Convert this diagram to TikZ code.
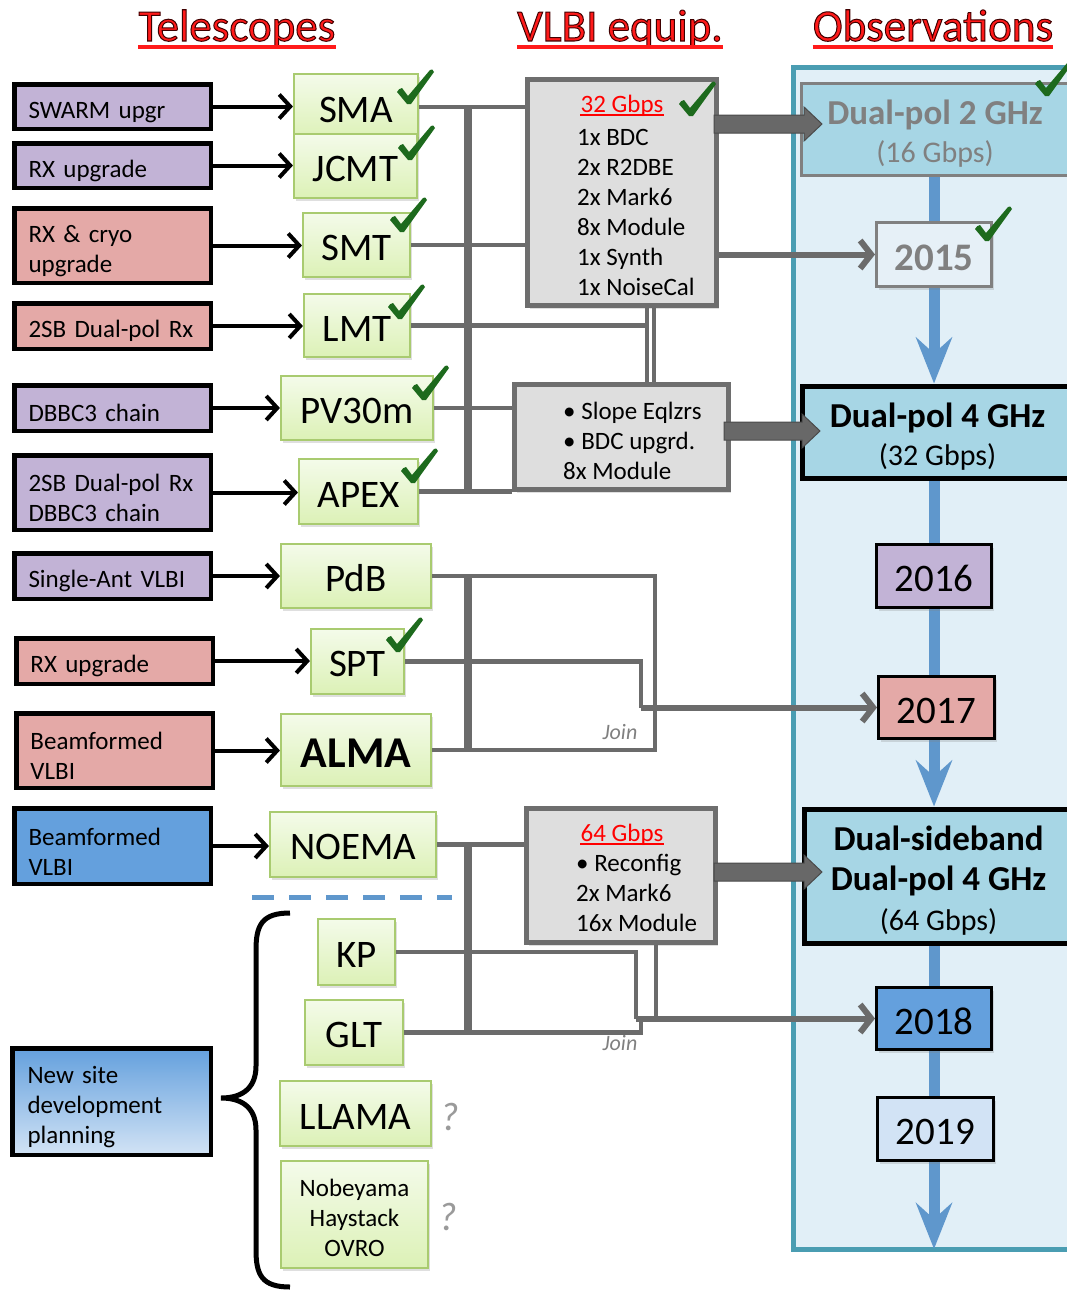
\documentclass[tikz,border=0pt]{standalone}
\usepackage{fontspec}
\setmainfont{Carlito}
\usetikzlibrary{arrows.meta,calc,shadows,backgrounds}
\definecolor{hdrred}{HTML}{FF1A1A}
\definecolor{lpurple}{HTML}{C2B3D6}
\definecolor{lpink}{HTML}{E4A9A7}
\definecolor{lblue}{HTML}{64A0DD}
\definecolor{lbluepale}{HTML}{D2E3F5}
\definecolor{telTop}{HTML}{F4FBEA}
\definecolor{telBot}{HTML}{DCF1B6}
\definecolor{telEdge}{HTML}{A9CB70}
\definecolor{vfill}{HTML}{DEDEDE}
\definecolor{vedge}{HTML}{6E6E6E}
\definecolor{conngray}{HTML}{6B6B6B}
\definecolor{panelfill}{HTML}{E1EFF7}
\definecolor{paneledge}{HTML}{4A9DB2}
\definecolor{obsfill}{HTML}{A7D6E5}
\definecolor{obsgray}{HTML}{808080}
\definecolor{yrpale}{HTML}{E6F0F7}
\definecolor{tlblue}{HTML}{5F97CC}
\definecolor{tickgreen}{HTML}{1D6A1D}
\definecolor{qgray}{HTML}{9A9A9A}
\definecolor{fatfill}{HTML}{686868}
\definecolor{fatedge}{HTML}{4A4A4A}
\newcommand\fsz[2]{\fontsize{#1}{#2}\selectfont}
% outlined heading text (fill plus thin dark stroke)
\newcommand\outlined[1]{\special{pdf:literal direct 2 Tr 1 w 0.25 0 0 RG}#1\special{pdf:literal direct 0 Tr}}
% thick grey block arrow from #1 to the tip #2
\newcommand\fatarrow[2]{%
  \filldraw[fill=fatfill, draw=fatedge, line width=1pt]
    ($(#1)+(0,-9)$) -- ($(#2)+(-18,-9)$) -- ($(#2)+(-18,-17)$) -- (#2)
    -- ($(#2)+(-18,17)$) -- ($(#2)+(-18,9)$) -- ($(#1)+(0,9)$) -- cycle;}
\tikzset{tick/.pic={%
  \fill[tickgreen] (-11,-12) .. controls (-9,-15) .. (-6,-16) -- (0,-8)
    -- (22,-34) .. controls (24,-35) .. (26,-32) -- (3,0) -- (-1,0) -- cycle;}}
\begin{document}
\begin{tikzpicture}[x=1pt,y=-1pt,
  lbox/.style={draw=black, line width=4.5pt, text width=168pt, minimum width=196.5pt,
    inner xsep=0pt, inner ysep=0pt, align=left, font=\fsz{25}{30},
    execute at begin node=\rule{0pt}{28pt}},
  tel/.style={draw=telEdge, line width=1.6pt, top color=telTop, bottom color=telBot,
    inner sep=0pt, font=\fsz{39}{45}, align=center,
    execute at begin node=\rule{0pt}{31pt},
    drop shadow={shadow xshift=2pt, shadow yshift=-3pt, opacity=0.25}},
  vbox/.style={draw=vedge, line width=5pt, fill=vfill, inner sep=0pt,
    drop shadow={shadow xshift=2pt, shadow yshift=-3pt, opacity=0.25}},
  vtxt/.style={inner sep=0pt, align=left, font=\fsz{25}{30}, anchor=west},
  gbps/.style={inner sep=0pt, anchor=base, font=\fsz{25}{30}, text=red},
  hdr/.style={inner sep=0pt, anchor=base, font=\fsz{45}{50}, text=hdrred},
  obsbox/.style={draw=black, line width=5pt, fill=obsfill, inner sep=0pt, align=center,
    font=\fsz{30}{38}},
  yr/.style={draw=black, line width=3pt, inner sep=0pt, font=\fsz{39}{45},
    execute at begin node=\rule{0pt}{32pt},
    drop shadow={shadow xshift=2pt, shadow yshift=-3pt, opacity=0.25}},
  blk/.style={draw=black, line width=4pt, -{Straight Barb[length=11pt,width=24pt]}},
  conn/.style={draw=conngray, line width=4.5pt},
  bar/.style={draw=conngray, line width=8pt},
  cga/.style={draw=conngray, line width=6pt, -{Straight Barb[length=11pt,width=28pt]}},
  tline/.style={draw=tlblue, line width=11pt},
  tarr/.style={tline, -{Stealth[length=46pt,width=36pt,inset=16pt]}},
  joinlbl/.style={inner sep=0pt, anchor=base, font=\fsz{22}{26}\itshape, text=obsgray},
  qmark/.style={inner sep=0pt, anchor=base, font=\fsz{40}{44}\itshape, text=qgray},
]
\useasboundingbox (0,0) rectangle (1066,1290);

% ---- column headings
\node[hdr] (h1) at (237,41) {\outlined{Telescopes}};
\node[hdr] (h2) at (620,41) {\outlined{VLBI equip.}};
\node[hdr] (h3) at (933,41) {\outlined{Observations}};
\foreach \h in {h1,h2,h3}
  \draw[hdrred, line width=4pt] ([yshift=-6pt]\h.base west) -- ([yshift=-6pt]\h.base east);

% ---- upgrade boxes
\node[lbox, fill=lpurple, minimum height=44.5pt] (l1) at (112.5,106.5) {SWARM upgr};
\node[lbox, fill=lpurple, minimum height=44.5pt] (l2) at (112.5,165.5) {RX upgrade};
\node[lbox, fill=lpink, minimum height=74.5pt] (l3) at (112.5,245.5) {RX \& cryo\\upgrade};
\node[lbox, fill=lpink, minimum height=45.5pt] (l4) at (112.5,326) {2SB Dual-pol Rx};
\node[lbox, fill=lpurple, minimum height=45.5pt] (l5) at (112.5,408) {DBBC3 chain};
\node[lbox, fill=lpurple, minimum height=74.5pt] (l6) at (112.5,492.5) {2SB Dual-pol Rx\\DBBC3 chain};
\node[lbox, fill=lpurple, minimum height=45.5pt] (l7) at (112.5,576) {Single-Ant VLBI};
\node[lbox, fill=lpink, minimum height=45.5pt] (l8) at (114.5,661) {RX upgrade};
\node[lbox, fill=lpink, minimum height=74.5pt] (l9) at (114.5,750.5) {Beamformed\\VLBI};
\node[lbox, fill=lblue, minimum height=75.5pt] (l10) at (112.5,846) {Beamformed\\VLBI};
\node[lbox, top color=lblue, bottom color=lbluepale, minimum width=198.5pt,
  minimum height=106.5pt] (l11) at (111.5,1101.5) {New site\\development\\planning};

% ---- telescopes
\node[tel, minimum width=124.5pt, minimum height=66pt] (t1) at (356,107) {SMA};
\node[tel, minimum width=123.5pt, minimum height=64.5pt] (t2) at (355.5,166) {JCMT};
\node[tel, minimum width=107.5pt, minimum height=64.5pt] (t3) at (356.5,245) {SMT};
\node[tel, minimum width=106.5pt, minimum height=63.5pt] (t4) at (357,325.5) {LMT};
\node[tel, minimum width=152.5pt, minimum height=64.5pt] (t5) at (357,408) {PV30m};
\node[tel, minimum width=119.5pt, minimum height=65.5pt] (t6) at (358.5,491.5) {APEX};
\node[tel, minimum width=150.5pt, minimum height=64.5pt] (t7) at (356,576) {PdB};
\node[tel, minimum width=93.5pt, minimum height=65.5pt] (t8) at (357.5,661.5) {SPT};
\node[tel, minimum width=150.5pt, minimum height=72.5pt, font=\fsz{44}{50}\bfseries,
  execute at begin node=\rule{0pt}{34pt}] (t9) at (356,750) {ALMA};
\node[tel, minimum width=166.5pt, minimum height=65.5pt] (t10) at (353,844.5) {NOEMA};
\node[tel, minimum width=77.5pt, minimum height=66.5pt] (t11) at (356.5,952) {KP};
\node[tel, minimum width=98.5pt, minimum height=65.5pt] (t12) at (354,1032.5) {GLT};
\node[tel, minimum width=151.5pt, minimum height=65.5pt] (t13) at (355.5,1113.5) {LLAMA};
\node[tel, minimum width=147.5pt, minimum height=107.5pt, font=\fsz{25}{30},
  execute at begin node={}] (t14) at (354.5,1214.5) {\rule{0pt}{24pt}Nobeyama\\Haystack\\OVRO};

% ---- upgrade arrows
\foreach \a/\b in {l1/t1,l2/t2,l3/t3,l4/t4,l5/t5,l6/t6,l7/t7,l8/t8,l9/t9,l10/t10}
  \draw[blk] (\a.east) -- (\a.east -| \b.west);

% ---- VLBI equipment
\node[vbox, minimum width=189pt, minimum height=226pt] (v1) at (622,192.5) {};
\node[vbox, minimum width=214pt, minimum height=105pt] (v2) at (621.5,437) {};
\node[vbox, minimum width=189pt, minimum height=134pt] (v3) at (621,875.5) {};
\node[gbps] (g1) at (622,112) {32 Gbps};
\draw[red, line width=2.5pt] ([yshift=-3pt]g1.base west) -- ([yshift=-3pt]g1.base east);
\node[vtxt] (v1t) at (577,212) {1x BDC\\2x R2DBE\\2x Mark6\\8x Module\\1x Synth\\1x NoiseCal};
\node[vtxt] (v2t) at (563,441) {\textbullet\ Slope Eqlzrs\\\textbullet\ BDC upgrd.\\8x Module};
\node[gbps] (g3) at (622,841) {64 Gbps};
\draw[red, line width=2.5pt] ([yshift=-3pt]g3.base west) -- ([yshift=-3pt]g3.base east);
\node[vtxt] (v3t) at (576,893) {\textbullet\ Reconfig\\2x Mark6\\16x Module};

% ---- observations column
\node[obsbox, draw=obsgray, line width=3pt, minimum width=267pt, minimum height=92pt, text=obsgray] (o1) at (935,129)
  {{\rule{0pt}{34pt}\fsz{35}{40}\bfseries Dual-pol 2 GHz}\\{(16 Gbps)}};
\node[yr, draw=obsgray, fill=yrpale, text=obsgray, font=\fsz{39}{45}\bfseries, minimum width=115pt, minimum height=64pt] (o2) at (934,254.5) {2015};
\node[obsbox, minimum width=270pt, minimum height=92pt] (o3) at (937.5,432)
  {{\rule{0pt}{34pt}\fsz{35}{40}\bfseries Dual-pol 4 GHz}\\{(32 Gbps)}};
\node[yr, fill=lpurple, minimum width=115pt, minimum height=63pt] (o4) at (934,576) {2016};
\node[yr, fill=lpink, minimum width=116pt, minimum height=62pt] (o5) at (936.5,707.5) {2017};
\node[obsbox, minimum width=268pt, minimum height=134pt, font=\fsz{30}{40}] (o6) at (938.5,876)
  {{\rule{0pt}{34pt}\fsz{35}{40}\bfseries Dual-sideband}\\{\fsz{35}{40}\bfseries Dual-pol 4 GHz}\\{(64 Gbps)}};
\node[yr, fill=lblue, minimum width=115pt, minimum height=62pt] (o7) at (934,1018.5) {2018};
\node[yr, fill=lbluepale, minimum width=116pt, minimum height=63pt] (o8) at (935.5,1129) {2019};
\coordinate (tend) at (934,1249);

\begin{scope}[on background layer]
  \filldraw[fill=panelfill, draw=paneledge, line width=5pt] (793,68) rectangle (1090,1249);
  \draw[tline] (o1.south -| o2.north) -- (o2.north);
  \draw[tarr] (o2.south) -- (o2.south |- o3.north);
  \draw[tline] (o2.south |- o3.south) -- (o4.north);
  \draw[tline] (o4.south) -- (o4.south |- o5.north);
  \draw[tarr] (o4.south |- o5.south) -- (o4.south |- o6.north);
  \draw[tline] (o4.south |- o6.south) -- (o7.north);
  \draw[tline] (o7.south) -- (o7.south |- o8.north);
  \draw[tarr] (o7.south |- o8.south) -- (tend);
\end{scope}

% ---- block arrows from the equipment to the observing modes
\coordinate (a1s) at ([xshift=-5pt,yshift=68.5pt]v1.east);
\coordinate (a1e) at ([xshift=22pt]o1.west |- a1s);
\coordinate (a2s) at ([xshift=-7pt,yshift=6pt]v2.east);
\coordinate (a2e) at ([xshift=20pt]o3.west |- a2s);
\coordinate (a3s) at ([xshift=-4pt,yshift=3.5pt]v3.east);
\coordinate (a3e) at ([xshift=20pt]o6.west |- a3s);
\fatarrow{a1s}{a1e}
\fatarrow{a2s}{a2e}
\fatarrow{a3s}{a3e}

% ---- grey signal lines
\coordinate (bus) at (468,0);
\coordinate (dA) at (647,0);
\coordinate (dB) at (654,0);
\coordinate (jP) at (655,0);
\coordinate (jS) at (641,0);
\coordinate (kK) at (636,0);
\coordinate (kG) at (641,0);
\coordinate (kV) at (656,0);
\node[joinlbl] (jn1) at (620,739) {Join};
\node[joinlbl] (jn2) at (620,1050) {Join};

\draw[conn] (t1.east) -- (t1.east -| v1.west);
\draw[conn] (t3.east) -- (t3.east -| v1.west);
\draw[conn] (t4.east) -- (t4.east -| dA);
\draw[conn] (dA |- v1.south) -- (dA |- v2.north);
\draw[conn] (dB |- v1.south) -- (dB |- v2.north);
\draw[conn] (t5.east) -- (t5.east -| v2.west);
\draw[conn] (t6.east) -- (t6.east -| v2.west);
\draw[bar] (bus |- t1.east) -- (bus |- t6.east);

\draw[conn] (t7.east) -| (jP |- t8.east) |- (t9.east);
\draw[conn] (t8.east) -| (jS |- o5.west);
\draw[cga] (jS |- o5.west) -- (o5.west);
\draw[bar] (bus |- t7.east) -- (bus |- t9.east);

\draw[conn] (t10.east) -- (t10.east -| v3.west);
\draw[conn] (t11.east) -| (kK |- o7.west);
\draw[conn] (t12.east) -| (kG |- o7.west);
\draw[conn] (kV |- v3.south) -- (kV |- o7.west);
\draw[cga] (kK |- o7.west) -- (o7.west);
\draw[bar] (bus |- t10.east) -- (bus |- t12.east);

\draw[cga] (v1.east |- o2.west) -- (o2.west);

% ---- separator and future sites
\coordinate (dsA) at (252,897);
\coordinate (dsB) at (452,897);
\draw[tlblue, line width=5pt, dash pattern=on 22pt off 15pt] (dsA) -- (dsB);
\draw[line width=5pt] (290,913) .. controls (262,913) and (256,925) .. (256,950)
  -- (256,1066) .. controls (256,1090) and (240,1098) .. (221,1098)
  .. controls (240,1098) and (256,1106) .. (256,1130)
  -- (256,1250) .. controls (256,1275) and (262,1287) .. (290,1287);
\node[qmark] (q1) at (450,1130) {?};
\node[qmark] (q2) at (448,1230) {?};

% ---- completed items
\foreach \p in {(408,104),(409,160),(401,232),(399,319),(423,400),(412,483),(397,652),
                (690,116),(1046,96),(986,241)}
  \pic at \p {tick};
\end{tikzpicture}
\end{document}
